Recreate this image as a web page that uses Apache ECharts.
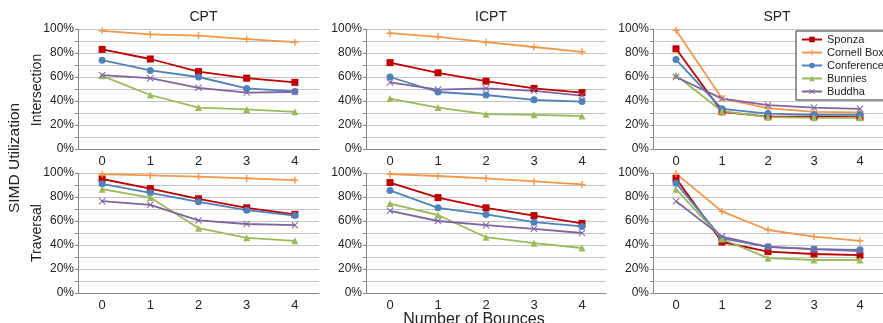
<!DOCTYPE html>
<html>
<head>
<meta charset="utf-8">
<script src="https://cdn.jsdelivr.net/npm/echarts@6/dist/echarts.min.js"></script>
<style>
  html, body { margin: 0; padding: 0; background: #fff; }
  #chart { width: 883px; height: 323px; }
</style>
</head>
<body>
<div id="chart"></div>
<script>
// categories
var bounces = ['0', '1', '2', '3', '4'];
var sceneNames = ['Sponza', 'Cornell Box', 'Conference', 'Bunnies', 'Buddha'];
var panelTitles = ['CPT', 'ICPT', 'SPT'];

// Intersection (top row), values in %
var cptIsect = {
    sponza:     [83, 75, 64.5, 59, 55.5],
    cornell:    [98.5, 95.5, 94.5, 91.5, 89],
    conference: [74, 65.5, 60, 50.5, 48],
    bunnies:    [61, 45, 34.5, 33, 31],
    buddha:     [61.5, 59, 51, 47, 47.5]
};
var icptIsect = {
    sponza:     [72, 63.5, 56.5, 50.5, 47],
    cornell:    [96.5, 93.5, 89, 85, 81],
    conference: [60, 47.5, 45, 41, 39.5],
    bunnies:    [42, 34.5, 29, 28.5, 27.5],
    buddha:     [55.5, 49.5, 50.5, 48.5, 44.5]
};
var sptIsect = {
    sponza:     [83.5, 31, 27, 27, 26.5],
    cornell:    [99, 42, 34, 31, 30.5],
    conference: [74.5, 33.5, 29.5, 28.5, 28.5],
    bunnies:    [61.5, 31.5, 26.5, 26, 26],
    buddha:     [60, 42, 36.5, 34.5, 33.5]
};

// Traversal (bottom row), values in %
var cptTrav = {
    sponza:     [95, 87, 78.5, 71, 65.5],
    cornell:    [99, 98, 97, 95.5, 94],
    conference: [91, 83.5, 76, 69, 64.5],
    bunnies:    [86.5, 79.5, 54, 46, 43.5],
    buddha:     [76.5, 73.5, 60.5, 57.5, 56.5]
};
var icptTrav = {
    sponza:     [92, 79.5, 71, 64.5, 58],
    cornell:    [99, 97.5, 95.5, 93, 90.5],
    conference: [85.5, 71, 65.5, 59, 55.5],
    bunnies:    [74.5, 65, 46.5, 41.5, 37.5],
    buddha:     [68.5, 60, 56.5, 53.5, 50]
};
var sptTrav = {
    sponza:     [95.5, 42.5, 34.5, 32.5, 31.5],
    cornell:    [99.5, 68, 52.5, 47, 43.5],
    conference: [91.5, 45.5, 38.5, 36.5, 36],
    bunnies:    [86.5, 45, 29, 27.5, 27.5],
    buddha:     [76.5, 47, 38.5, 36.5, 35]
};

var yTicks = [0, 20, 40, 60, 80, 100];

var panels = [cptIsect, icptIsect, sptIsect, cptTrav, icptTrav, sptTrav];
var keys = ['sponza', 'cornell', 'conference', 'bunnies', 'buddha'];
var colors = ['#C00000', '#F79646', '#4F81BD', '#9BBB59', '#8064A2'];
var xMark = 'path://M0,1 L1,0 L5,4 L9,0 L10,1 L6,5 L10,9 L9,10 L5,6 L1,10 L0,9 L4,5 Z';
var starMark = 'path://M4,0 L6,0 L6,4 L10,4 L10,6 L6,6 L6,10 L4,10 L4,6 L0,6 L0,4 L4,4 Z';
var symbols = ['rect', starMark, 'circle', 'triangle', xMark];

var font = 'Liberation Sans';
var gridLefts = [78, 366, 653];
var gridWidths = [241, 240, 242];
var gridTops = [29, 173];

var grids = [], xAxes = [], yAxes = [], series = [];
for (var p = 0; p < 6; p++) {
    var col = p % 3, row = Math.floor(p / 3);
    grids.push({ left: gridLefts[col], top: gridTops[row], width: gridWidths[col], height: 120 });
    xAxes.push({
        type: 'category', gridIndex: p, data: bounces, boundaryGap: true,
        axisLine: { lineStyle: { color: '#888', width: 1 } },
        axisTick: { show: false },
        axisLabel: { color: '#222', fontSize: 13, fontFamily: font, margin: 6 }
    });
    yAxes.push({
        type: 'value', gridIndex: p, min: 0, max: 100, interval: 10,
        axisLine: { show: true, lineStyle: { color: '#888', width: 1 } },
        axisTick: { show: true, length: 3, lineStyle: { color: '#888' } },
        splitLine: { lineStyle: { color: '#c4c4c4', width: 1 } },
        axisLabel: {
            color: '#222', fontSize: 12, fontFamily: font, margin: 4,
            formatter: function (v) { return yTicks.indexOf(v) >= 0 ? v + '%' : ''; }
        }
    });
    for (var s = 0; s < 5; s++) {
        series.push({
            name: sceneNames[s], type: 'line', xAxisIndex: p, yAxisIndex: p,
            data: panels[p][keys[s]],
            symbol: symbols[s], symbolSize: 7,
            lineStyle: { color: colors[s], width: 1.8 },
            itemStyle: { color: colors[s] },
            animation: false
        });
    }
}

var chart = echarts.init(document.getElementById('chart'));
chart.setOption({
    animation: false,
    textStyle: { fontFamily: font },
    title: panelTitles.map(function (t, i) {
        return {
            text: t, left: gridLefts[i] + gridWidths[i] / 2 - (i === 2 ? 2 : 0), top: 5,
            textAlign: 'center',
            textStyle: { fontSize: 14, fontWeight: 'normal', color: '#222', fontFamily: font }
        };
    }),
    legend: {
        orient: 'vertical', left: 796, top: 31,
        data: sceneNames,
        itemWidth: 20, itemHeight: 7, itemGap: 2,
        padding: [3, 30, 3, 5],
        borderColor: '#333', borderWidth: 1, backgroundColor: '#fff',
        textStyle: { fontSize: 11, color: '#222', fontFamily: font }
    },
    graphic: [
        { type: 'text', x: 37, y: 90, rotation: Math.PI / 2,
          style: { text: 'Intersection', fontSize: 14, fontFamily: font, fill: '#222', textAlign: 'center', textVerticalAlign: 'middle' } },
        { type: 'text', x: 37, y: 233, rotation: Math.PI / 2,
          style: { text: 'Traversal', fontSize: 14, fontFamily: font, fill: '#222', textAlign: 'center', textVerticalAlign: 'middle' } },
        { type: 'text', x: 15, y: 158, rotation: Math.PI / 2,
          style: { text: 'SIMD Utilization', fontSize: 15.5, fontFamily: font, fill: '#222', textAlign: 'center', textVerticalAlign: 'middle' } },
        { type: 'text', x: 474, y: 320,
          style: { text: 'Number of Bounces', fontSize: 16, fontFamily: font, fill: '#222', textAlign: 'center', textVerticalAlign: 'middle' } }
    ],
    grid: grids,
    xAxis: xAxes,
    yAxis: yAxes,
    series: series
});
</script>
</body>
</html>
